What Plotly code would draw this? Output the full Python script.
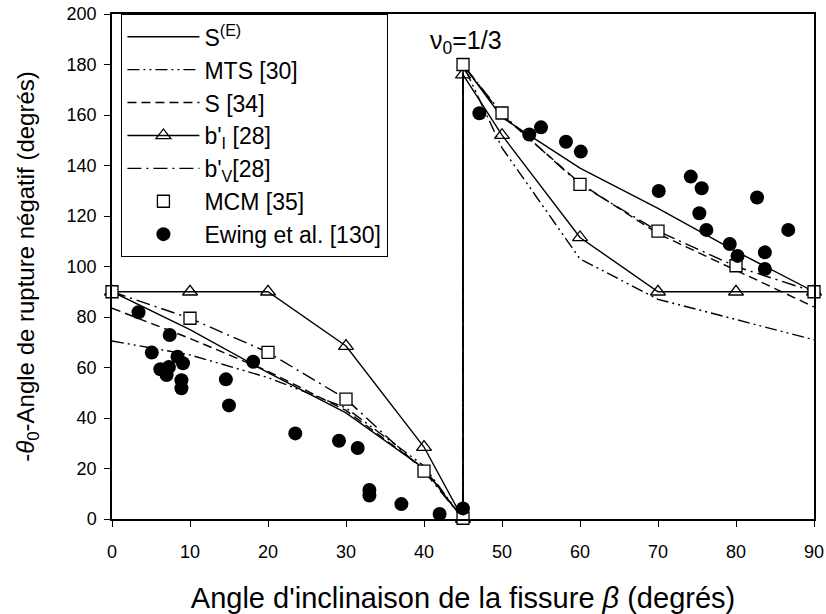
import plotly.graph_objects as go

# ---- data ----
beta_curve = [0, 10, 20, 30, 40, 45, 45, 50, 60, 70, 80, 90]
s_e = [90, 75, 58, 42, 20, 0, 180, 159, 139, 123, 106, 90]
mts = [70.5, 65, 56, 44, 21, 0, 180, 147, 103, 87, 79, 71]
s34 = [83.5, 71.5, 58.5, 43, 20, 0, 180, 160, 133, 113, 98.5, 84]
bI = [90, 90, 90, 68.5, 28.5, 0, 176, 152, 111.5, 90, 90, 90]
bV = [90, 79.5, 66, 47.5, 19, 0, 180, 160.5, 132.5, 114, 100, 90]

mcm_x = [0, 10, 20, 30, 40, 45, 45, 50, 60, 70, 80, 90]
mcm_y = [90, 79.5, 66, 47.5, 19, 0.3, 180, 160.8, 132.5, 114, 100.3, 90]

ewing_x = [3.4, 7.4, 5.1, 8.4, 9.1, 6.2, 7.0, 7.3, 8.9, 8.9, 14.6, 15.0, 18.1,
           23.5, 29.1, 31.5, 33.0, 33.0, 37.1, 42.0, 45.0,
           47.1, 55.0, 53.5, 58.2, 60.1, 70.1, 74.2, 75.6, 75.3, 76.2, 79.2,
           80.2, 82.7, 83.7, 83.7, 86.7]
ewing_y = [81.9, 72.9, 65.9, 64.3, 61.7, 59.3, 57.0, 60.2, 55.0, 51.8, 55.3, 45.0, 62.3,
           33.9, 31.0, 28.1, 11.5, 9.3, 5.9, 2.0, 4.2,
           160.7, 155.1, 152.3, 149.4, 145.5, 129.9, 135.6, 131.0, 121.1, 114.5, 108.9,
           104.2, 127.3, 105.6, 99.0, 114.5]

x_ticks = [0, 10, 20, 30, 40, 50, 60, 70, 80, 90]
y_ticks = [0, 20, 40, 60, 80, 100, 120, 140, 160, 180, 200]

FONT = "Arial, Liberation Sans, sans-serif"
LW = 1.4

fig = go.Figure()
fig.add_trace(go.Scatter(x=beta_curve, y=s_e, mode="lines", name="S<sup>(E)</sup>",
                         cliponaxis=False, line=dict(color="black", width=LW)))
fig.add_trace(go.Scatter(x=beta_curve, y=mts, mode="lines", name="MTS [30]",
                         cliponaxis=False,
                         line=dict(color="black", width=LW, dash="12px,4px,2px,4px,2px,4px")))
fig.add_trace(go.Scatter(x=beta_curve, y=s34, mode="lines", name="S [34]",
                         cliponaxis=False,
                         line=dict(color="black", width=LW, dash="9px,5px")))
fig.add_trace(go.Scatter(x=beta_curve, y=bI, mode="lines+markers", name="b'<sub>I</sub> [28]",
                         cliponaxis=False, line=dict(color="black", width=LW),
                         marker=dict(symbol="triangle-up-open", size=13, color="black",
                                     line=dict(width=1.3))))
fig.add_trace(go.Scatter(x=beta_curve, y=bV, mode="lines", name="b'<sub>V</sub>[28]",
                         cliponaxis=False,
                         line=dict(color="black", width=LW, dash="14px,5px,2px,5px")))
fig.add_trace(go.Scatter(x=mcm_x, y=mcm_y, mode="markers", name="MCM [35]",
                         cliponaxis=False,
                         marker=dict(symbol="square", size=12, color="white",
                                     line=dict(color="black", width=1.3))))
fig.add_trace(go.Scatter(x=ewing_x, y=ewing_y, mode="markers", name="Ewing et al. [130]",
                         cliponaxis=False,
                         marker=dict(symbol="circle", size=14, color="black")))

fig.add_annotation(x=45, y=189, xref="x", yref="y", text="ν<sub>0</sub>=1/3",
                   showarrow=False, xanchor="left", yanchor="middle", xshift=-35,
                   font=dict(family=FONT, size=25, color="black"))

axis_common = dict(showgrid=False, zeroline=False, showline=True, linecolor="black",
                   linewidth=1.5, mirror=True, ticks="outside", ticklen=6,
                   tickcolor="black", tickwidth=1.2, automargin=False,
                   tickfont=dict(family=FONT, size=18, color="black"))

fig.update_layout(
    width=826, height=614,
    margin=dict(l=112, r=12, t=14, b=95),
    plot_bgcolor="white", paper_bgcolor="white",
    xaxis=dict(range=[0, 90], tickvals=x_ticks, ticklabelstandoff=10,
               title=dict(text="Angle d'inclinaison de la fissure <i>β</i> (degrés)",
                          font=dict(family=FONT, size=29, color="black"), standoff=26),
               **axis_common),
    yaxis=dict(range=[0, 200], tickvals=y_ticks, ticklabelstandoff=4,
               title=dict(text="-<i>θ</i><sub>0</sub>-Angle de rupture négatif (degrés)",
                          font=dict(family=FONT, size=24, color="black"), standoff=25),
               **axis_common),
    legend=dict(x=0.013, y=1.0, xanchor="left", yanchor="top",
                bgcolor="white", bordercolor="black", borderwidth=1.3,
                font=dict(family=FONT, size=23, color="black"),
                tracegroupgap=0, itemwidth=72),
    showlegend=True,
)

fig.write_html("out.html")
